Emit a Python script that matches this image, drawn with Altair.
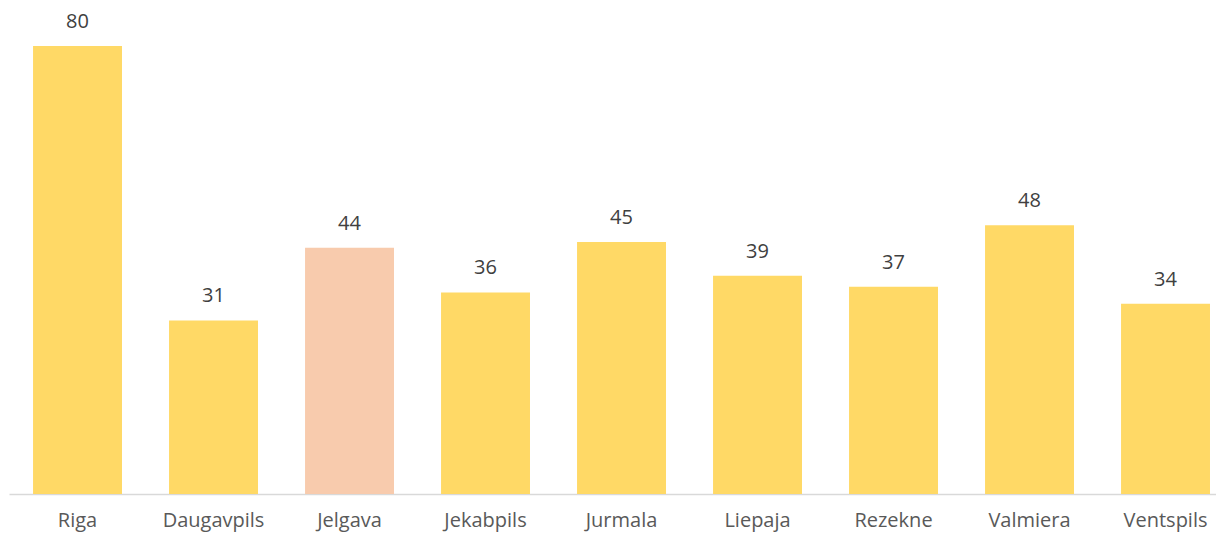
import altair as alt
import pandas as pd

cities = ["Riga", "Daugavpils", "Jelgava", "Jekabpils", "Jurmala", "Liepaja", "Rezekne", "Valmiera", "Ventspils"]
values = [80, 31, 44, 36, 45, 39, 37, 48, 34]
highlight = ["no", "no", "yes", "no", "no", "no", "no", "no", "no"]

df = pd.DataFrame({"city": cities, "value": values, "hl": highlight})

x = alt.X("city:N", sort=cities, title=None,
          scale=alt.Scale(paddingInner=0.346, paddingOuter=0.1105, align=0.8),
          axis=alt.Axis(labelAngle=0, labelFont="Open Sans", labelFontSize=20,
                        labelColor="#595959", labelPadding=16, ticks=False,
                        domainColor="#d9d9d9", domainWidth=1.5))
y = alt.Y("value:Q", scale=alt.Scale(domain=[0, 86.8], nice=False), axis=None)

bars = alt.Chart(df).mark_bar().encode(
    x=x, y=y,
    color=alt.Color("hl:N", scale=alt.Scale(domain=["no", "yes"], range=["#FFD966", "#F8CBAD"]), legend=None),
)
labels = alt.Chart(df).mark_text(baseline="bottom", dy=-14, font="Open Sans", fontSize=20, color="#404040").encode(
    x=alt.X("city:N", sort=cities), y=y, text="value:Q"
)

chart = (bars + labels).properties(
    width=1207, height=486,
    padding={"left": 1, "top": 0, "right": 0, "bottom": 6},
).configure_view(stroke=None)

chart.save("out.html", embed_options={"renderer": "svg", "actions": False})
